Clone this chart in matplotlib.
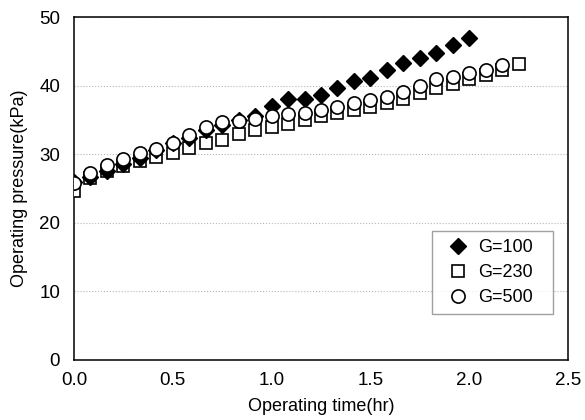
import matplotlib
matplotlib.use("Agg")
import matplotlib.pyplot as plt

plt.rcParams['font.family'] = ['Liberation Sans', 'DejaVu Sans']

# operating time (hr), 5 min steps
time_hr = [0.000, 0.083, 0.167, 0.250, 0.333, 0.417, 0.500, 0.583, 0.667, 0.750,
           0.833, 0.917, 1.000, 1.083, 1.167, 1.250, 1.333, 1.417, 1.500, 1.583,
           1.667, 1.750, 1.833, 1.917, 2.000, 2.083, 2.167, 2.250]

# operating pressure (kPa)
p_g100 = [25.9, 26.7, 27.5, 28.5, 29.4, 30.6, 31.6, 32.3, 33.5, 34.3,
          35.0, 35.6, 37.0, 38.0, 38.1, 38.7, 39.6, 40.6, 41.1, 42.3,
          43.3, 44.0, 44.8, 45.9, 47.0]
p_g230 = [24.7, 26.5, 27.5, 28.3, 29.0, 29.6, 30.1, 30.9, 31.6, 32.1,
          33.0, 33.5, 34.0, 34.4, 35.0, 35.5, 36.0, 36.4, 36.9, 37.4,
          38.1, 38.9, 39.6, 40.3, 40.9, 41.5, 42.3, 43.1]
p_g500 = [25.8, 27.3, 28.4, 29.3, 30.1, 30.7, 31.6, 32.8, 34.0, 34.7,
          34.8, 35.2, 35.5, 35.8, 36.0, 36.4, 36.9, 37.4, 37.9, 38.4,
          39.1, 39.9, 40.9, 41.3, 41.8, 42.3, 43.0]

labels = ['G=100', 'G=230', 'G=500']

fig = plt.figure(figsize=(5.85, 4.2), dpi=100)
ax = fig.add_axes([0.1265, 0.143, 0.8445, 0.8165])

h230, = ax.plot(time_hr[:len(p_g230)], p_g230, linestyle='none', marker='s',
                markersize=9, markerfacecolor='white', markeredgecolor='black',
                markeredgewidth=1.2, zorder=3)
h100, = ax.plot(time_hr[:len(p_g100)], p_g100, linestyle='none', marker='D',
                markersize=8.5, markerfacecolor='black', markeredgecolor='black',
                zorder=4)
h500, = ax.plot(time_hr[:len(p_g500)], p_g500, linestyle='none', marker='o',
                markersize=9.5, markerfacecolor='white', markeredgecolor='black',
                markeredgewidth=1.2, zorder=5)

ax.set_xlim(0, 2.5)
ax.set_ylim(0, 50)
ax.set_xticks([0.0, 0.5, 1.0, 1.5, 2.0, 2.5])
ax.set_xticklabels(['0.0', '0.5', '1.0', '1.5', '2.0', '2.5'])
ax.set_yticks([0, 10, 20, 30, 40, 50])
ax.tick_params(axis='both', length=0, labelsize=13.5)
ax.tick_params(axis='y', pad=10)
ax.tick_params(axis='x', pad=9)

ax.yaxis.grid(True, color='#b8b8b8', linestyle=':', linewidth=0.8)
ax.set_axisbelow(True)
for s in ax.spines.values():
    s.set_linewidth(1.1)
    s.set_color('black')

ax.set_xlabel('Operating time(hr)', fontsize=13, labelpad=6)
ax.set_ylabel('Operating pressure(kPa)', fontsize=13, labelpad=8)

leg = ax.legend([h100, h230, h500], labels, loc='upper left',
                bbox_to_anchor=(0.725, 0.0, 0.245, 0.376), mode='expand',
                fontsize=13, frameon=True, fancybox=False, edgecolor='#888888',
                handlelength=2.0, handletextpad=0.1, borderpad=0.45,
                labelspacing=0.45, borderaxespad=0)
leg.get_frame().set_linewidth(1.0)

fig.savefig('out.png', dpi=100)
